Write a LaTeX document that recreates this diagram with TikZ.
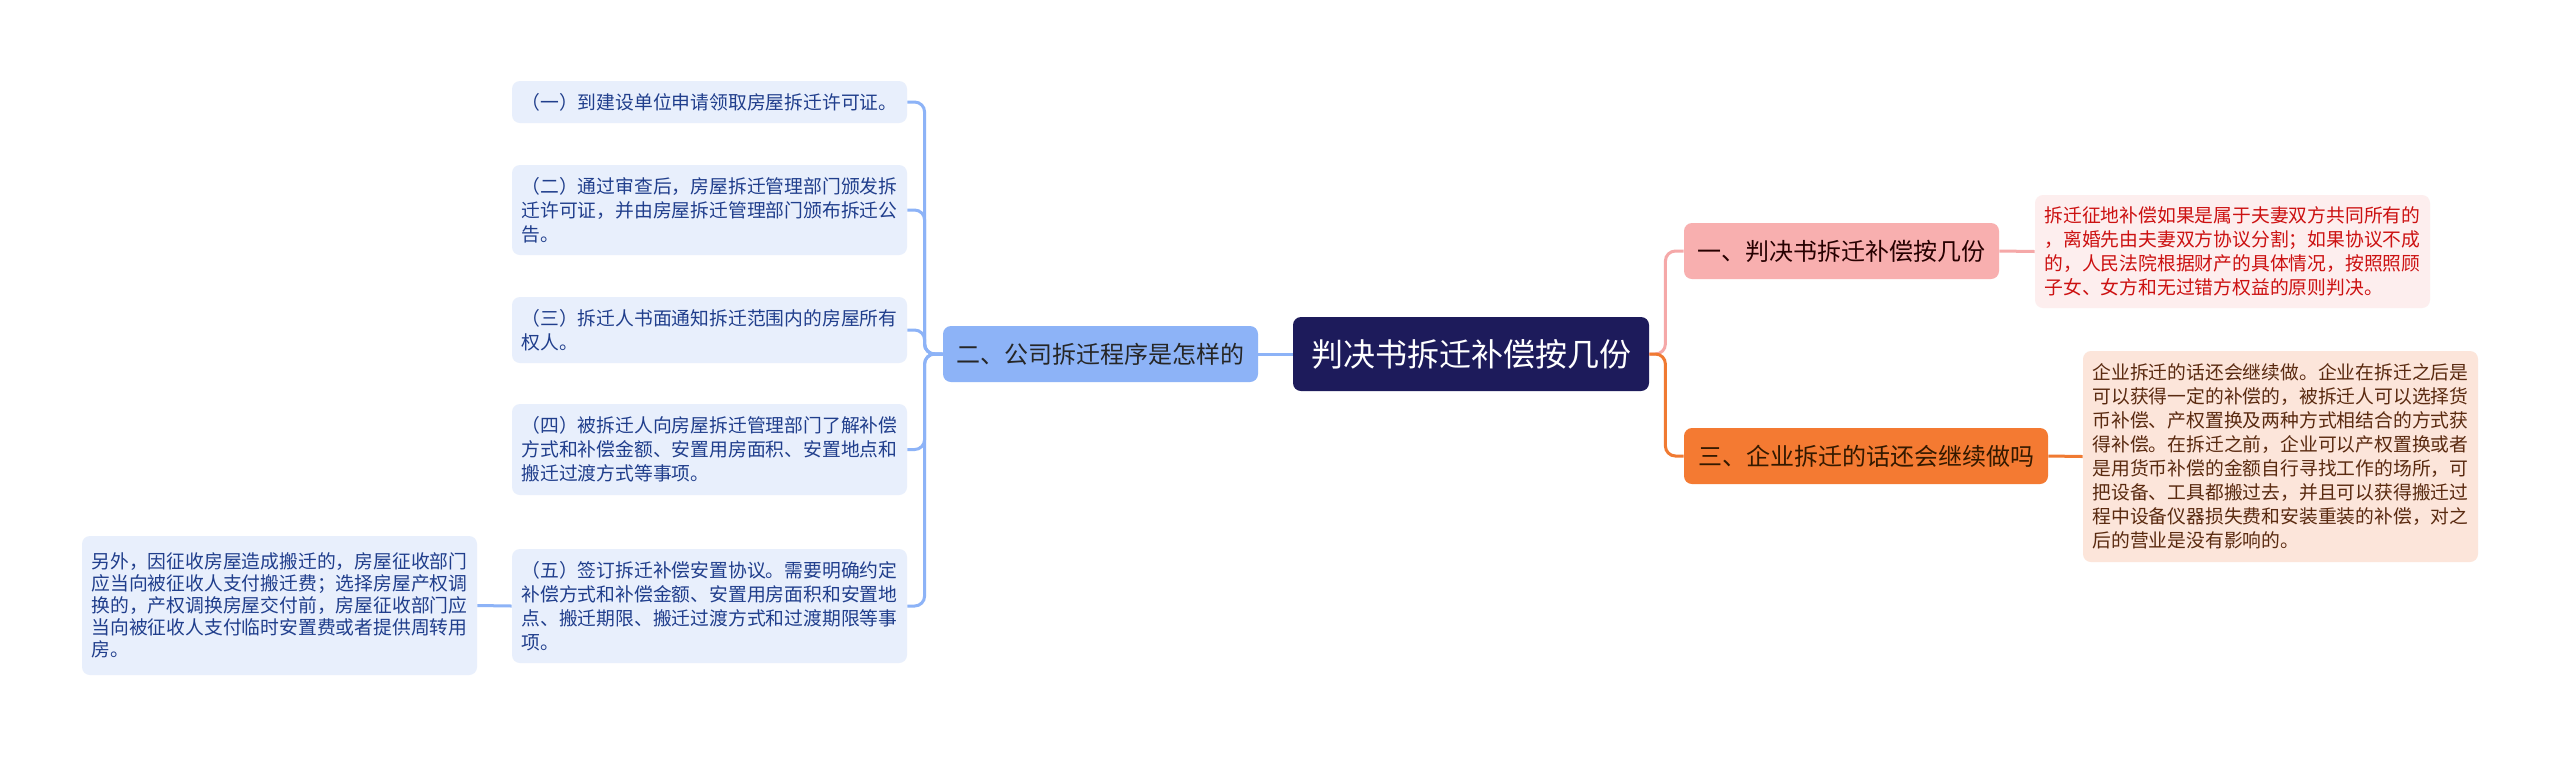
\documentclass[tikz,border=0pt]{standalone}
\usepackage{fontspec}
\setmainfont{Noto Sans CJK SC}
\usepackage{tikz}
\usetikzlibrary{positioning}
\definecolor{rootnavy}{HTML}{1D1B5B}
\definecolor{procblue}{HTML}{8DB3F7}
\definecolor{blueline}{HTML}{8DB3F7}
\definecolor{leafblue}{HTML}{E8EFFC}
\definecolor{leafbluetext}{HTML}{203E8C}
\definecolor{pinknode}{HTML}{F8AFAF}
\definecolor{pinkline}{HTML}{F5A8A8}
\definecolor{pinkleaf}{HTML}{FDEEEE}
\definecolor{redtext}{HTML}{CC1111}
\definecolor{orangenode}{HTML}{F47A32}
\definecolor{orangeline}{HTML}{F07A32}
\definecolor{peachleaf}{HTML}{FCE5DA}
\definecolor{browntext}{HTML}{5A2A10}
\tikzset{topic/.style={rounded corners=4pt, align=center, inner sep=0pt, minimum height=28pt, font=\fontsize{12pt}{14pt}\selectfont}}
\tikzset{leafbox/.style={rounded corners=4pt, inner sep=0pt, align=left, text width=188pt, minimum width=197.5pt, font=\fontsize{9.4pt}{12pt}\selectfont}}
\tikzset{link/.style={line width=1.5pt, rounded corners=5pt}}

\begin{document}
\begin{tikzpicture}[x=0.5pt, y=-0.5pt]
        \fill[white] (0,0) rectangle (2560,757);
        \useasboundingbox (0,0) rectangle (2560,757);

        % Nodes
        \node[topic, fill=rootnavy, text=white, minimum width=178pt, minimum height=37pt, font=\fontsize{16pt}{19pt}\selectfont] (root) at (1471,354) {判决书拆迁补偿按几份};
        \node[topic, fill=procblue, text=black!85, minimum width=157.5pt] (procedure) at (1100.5,354) {二、公司拆迁程序是怎样的};
        \node[topic, fill=pinknode, text=black!85!red, minimum width=157.5pt] (judgment) at (1841.5,251) {一、判决书拆迁补偿按几份};
        \node[topic, fill=orangenode, text=black!80!orange, minimum width=182pt] (enterprise) at (1866,456) {三、企业拆迁的话还会继续做吗};

        % Procedure leaves
        \node[leafbox, fill=leafblue, text=leafbluetext, minimum height=21pt] (proc1) at (709.5,102) {（一）到建设单位申请领取房屋拆迁许可证。};
        \node[leafbox, fill=leafblue, text=leafbluetext, minimum height=45pt] (proc2) at (709.5,210) {（二）通过审查后，房屋拆迁管理部门颁发拆\\迁许可证，并由房屋拆迁管理部门颁布拆迁公\\告。};
        \node[leafbox, fill=leafblue, text=leafbluetext, minimum height=33pt] (proc3) at (709.5,330) {（三）拆迁人书面通知拆迁范围内的房屋所有\\权人。};
        \node[leafbox, fill=leafblue, text=leafbluetext, minimum height=45.5pt] (proc4) at (709.5,449.5) {（四）被拆迁人向房屋拆迁管理部门了解补偿\\方式和补偿金额、安置用房面积、安置地点和\\搬迁过渡方式等事项。};
        \node[leafbox, fill=leafblue, text=leafbluetext, minimum height=57pt] (proc5) at (709.5,606) {（五）签订拆迁补偿安置协议。需要明确约定\\补偿方式和补偿金额、安置用房面积和安置地\\点、搬迁期限、搬迁过渡方式和过渡期限等事\\项。};
        \node[leafbox, fill=leafblue, text=leafbluetext, minimum height=69.5pt, font=\fontsize{9.4pt}{11pt}\selectfont] (extra) at (279.5,605.5) {另外，因征收房屋造成搬迁的，房屋征收部门\\应当向被征收人支付搬迁费；选择房屋产权调\\换的，产权调换房屋交付前，房屋征收部门应\\当向被征收人支付临时安置费或者提供周转用\\房。};

        % Right notes
        \node[leafbox, fill=pinkleaf, text=redtext, minimum height=56.5pt] (judgment_note) at (2232.5,251.5) {拆迁征地补偿如果是属于夫妻双方共同所有的\\，离婚先由夫妻双方协议分割；如果协议不成\\的，人民法院根据财产的具体情况，按照照顾\\子女、女方和无过错方权益的原则判决。};
        \node[leafbox, fill=peachleaf, text=browntext, minimum height=105.5pt] (enterprise_note) at (2280.5,456.5) {企业拆迁的话还会继续做。企业在拆迁之后是\\可以获得一定的补偿的，被拆迁人可以选择货\\币补偿、产权置换及两种方式相结合的方式获\\得补偿。在拆迁之前，企业可以产权置换或者\\是用货币补偿的金额自行寻找工作的场所，可\\把设备、工具都搬过去，并且可以获得搬迁过\\程中设备仪器损失费和安装重装的补偿，对之\\后的营业是没有影响的。};

        % Connectors
        \draw[link, draw=blueline] (root.west) -- (procedure.east);
        \foreach \leaf in {proc1,proc2,proc3,proc4,proc5}
            \draw[link, draw=blueline] (procedure.west) -- ++(-18,0) |- (\leaf.east);
        \draw[link, draw=blueline] (proc5.west) -- (extra.east);
        \draw[link, draw=pinkline] (root.east) -- ++(16,0) |- (judgment.west);
        \draw[link, draw=orangeline] (root.east) -- ++(16,0) |- (enterprise.west);
        \draw[link, draw=pinkline] (judgment.east) -- (judgment_note.west);
        \draw[link, draw=orangeline] (enterprise.east) -- (enterprise_note.west);
    \end{tikzpicture}
\end{document}
